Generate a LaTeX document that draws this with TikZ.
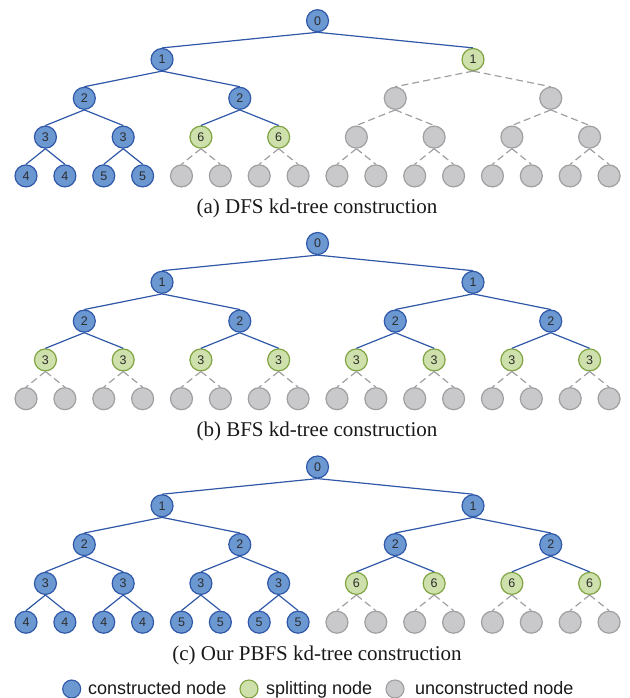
\documentclass[tikz,border=0pt]{standalone}
\usepackage{fontspec}
\setmainfont{Liberation Serif}
\setsansfont{Liberation Sans}
\definecolor{bfill}{RGB}{108,152,210}
\definecolor{bline}{RGB}{48,88,168}
\definecolor{gfill}{RGB}{206,224,172}
\definecolor{gline}{RGB}{128,164,66}
\definecolor{ufill}{RGB}{201,201,203}
\definecolor{uline}{RGB}{160,160,162}
\definecolor{txt}{RGB}{45,45,45}
\tikzset{
  tn/.style={circle, minimum size=22pt, inner sep=0pt, line width=1.2pt,
    text=txt, font=\sffamily\fontsize{12.5}{12.5}\selectfont},
  nb/.style={tn, draw=bline, fill=bfill},
  ng/.style={tn, draw=gline, fill=gfill},
  nu/.style={tn, draw=uline, fill=ufill},
  eb/.style={draw=bline, line width=1.2pt},
  eg/.style={eb},
  eu/.style={draw=uline, line width=1.2pt, dash pattern=on 7pt off 4pt},
  captext/.style={font=\fontsize{21}{21}\selectfont, text=black!90},
  legtext/.style={font=\sffamily\fontsize{18}{18}\selectfont, text=black!90, anchor=base west, inner sep=0pt},
  legcirc/.style={circle, minimum size=18pt, inner sep=0pt, line width=1.1pt}
}
\newcommand\treelevel[4]{%
  \foreach \s/\t [count=\c from 0] in {#4} {
    \pgfmathsetmacro\spn{2^(4-#2)}
    \pgfmathsetmacro\xx{26 + 38.87*(\spn*\c + (\spn-1)/2)}
    \pgfmathsetmacro\yy{#3 + 38.8*#2}
    \node[n\s] (#1-#2-\c) at (\xx,\yy) {\t};
    \ifnum#2>0
      \pgfmathtruncatemacro\p{floor(\c/2)}
      \pgfmathtruncatemacro\pl{#2-1}
      \draw[e\s] (#1-\pl-\p.south) -- (#1-#2-\c.north);
    \fi
  }%
}
\begin{document}
\begin{tikzpicture}[x=1pt,y=-1pt]
\useasboundingbox (0,0) rectangle (629,698);
% (a) DFS
\treelevel{a}{0}{20.7}{b/0}
\treelevel{a}{1}{20.7}{b/1,g/1}
\treelevel{a}{2}{20.7}{b/2,b/2,u/{},u/{}}
\treelevel{a}{3}{20.7}{b/3,b/3,g/6,g/6,u/{},u/{},u/{},u/{}}
\treelevel{a}{4}{20.7}{b/4,b/4,b/5,b/5,u/{},u/{},u/{},u/{},u/{},u/{},u/{},u/{},u/{},u/{},u/{},u/{}}
\node[captext] (capa) at (317,208) {(a) DFS kd-tree construction};
% (b) BFS
\treelevel{b}{0}{243.5}{b/0}
\treelevel{b}{1}{243.5}{b/1,b/1}
\treelevel{b}{2}{243.5}{b/2,b/2,b/2,b/2}
\treelevel{b}{3}{243.5}{g/3,g/3,g/3,g/3,g/3,g/3,g/3,g/3}
\treelevel{b}{4}{243.5}{u/{},u/{},u/{},u/{},u/{},u/{},u/{},u/{},u/{},u/{},u/{},u/{},u/{},u/{},u/{},u/{}}
\node[captext] (capb) at (317,431) {(b) BFS kd-tree construction};
% (c) PBFS
\treelevel{c}{0}{467}{b/0}
\treelevel{c}{1}{467}{b/1,b/1}
\treelevel{c}{2}{467}{b/2,b/2,b/2,b/2}
\treelevel{c}{3}{467}{b/3,b/3,b/3,b/3,g/6,g/6,g/6,g/6}
\treelevel{c}{4}{467}{b/4,b/4,b/4,b/4,b/5,b/5,b/5,b/5,u/{},u/{},u/{},u/{},u/{},u/{},u/{},u/{}}
\node[captext] (capc) at (317,655) {(c) Our PBFS kd-tree construction};
% legend
\node[legcirc, draw=bline, fill=bfill] (l1) at (71.7,689) {};
\node[legtext] (t1) at (88,694.5) {constructed node};
\node[legcirc, draw=gline, fill=gfill] (l2) at (249,689) {};
\node[legtext] (t2) at (266,694.5) {splitting node};
\node[legcirc, draw=uline, fill=ufill] (l3) at (395,689) {};
\node[legtext] (t3) at (415,694.5) {unconstructed node};
\end{tikzpicture}
\end{document}
